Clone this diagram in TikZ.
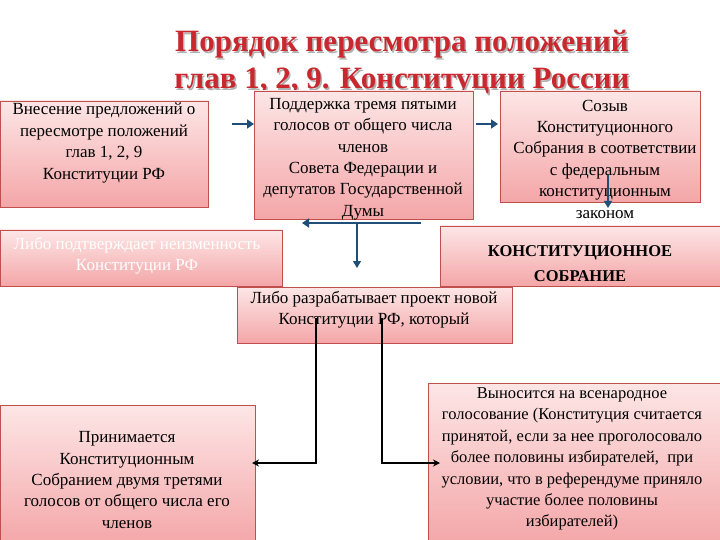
\documentclass[tikz,border=0pt]{standalone}
\usepackage{fontspec}
\setmainfont{Liberation Serif}
\usetikzlibrary{arrows.meta}
\definecolor{pk}{HTML}{F4A6A8}
\definecolor{pkl}{HTML}{FDE6E6}
\definecolor{bd}{HTML}{C0504D}
\definecolor{ttl}{HTML}{C8282E}
\definecolor{blu}{HTML}{1F4E79}
\tikzset{
 bx/.style={draw=bd,line width=0.8pt,top color=pkl,bottom color=pk,inner sep=0pt},
 tx/.style={align=center,font=\fontsize{17}{21.4}\selectfont,inner sep=0pt},
 barr/.style={draw=blu,line width=2pt,-{Triangle[length=7pt,width=9pt]}},
 karr/.style={draw=black,line width=1.6pt,-{Stealth[length=7pt,width=7pt]}}
}
\begin{document}
\begin{tikzpicture}[x=1pt,y=-1pt]
\useasboundingbox (0,0) rectangle (720,540);
% title
\foreach \dx/\c in {1.5/gray!60,0/ttl}{
\node[font=\fontsize{31}{37}\selectfont\bfseries,text=\c,align=center] (t\dx) at (402+\dx,63+\dx) {Порядок пересмотра положений\\глав 1, 2, 9. Конституции России};}
% boxes
\path[bx] (0,101) rectangle (208,207); \node[tx] (A) at (104,143) {Внесение предложений о\\пересмотре положений\\глав 1, 2, 9\\Конституции РФ};
\path[bx] (254,91) rectangle (473,219); \node[tx] (B) at (363,159) {Поддержка тремя пятыми\\голосов от общего числа\\членов\\Совета Федерации и\\депутатов Государственной\\Думы};
\path[bx] (500,91) rectangle (700,202); \node[tx] (C) at (605,159) {Созыв\\Конституционного\\Собрания в соответствии\\с федеральным\\конституционным\\законом};
\path[bx] (0,230) rectangle (282,286); \node[tx,text=white] (D) at (137,256) {Либо подтверждает неизменность\\Конституции РФ};
\path[bx] (440,226) rectangle (720,286); \node[tx,font=\fontsize{16.5}{25}\selectfont\bfseries] (E) at (580,264) {КОНСТИТУЦИОННОЕ\\СОБРАНИЕ};
\path[bx] (237,287) rectangle (512,343); \node[tx] (F) at (374,310) {Либо разрабатывает проект новой\\Конституции РФ, который};
\path[bx] (0,405) rectangle (255,545); \node[tx] (G) at (127,480) {Принимается\\Конституционным\\Собранием двумя третями\\голосов от общего числа его\\членов};
\path[bx] (428,383) rectangle (725,545); \node[tx,font=\fontsize{16.5}{21.4}\selectfont] (H) at (572,459) {Выносится на всенародное\\голосование (Конституция считается\\принятой, если за нее проголосовало\\более половины избирателей,\ \ при\\условии, что в референдуме приняло\\участие более половины\\избирателей)};
% connectors
\coordinate (a1) at (232,124); \coordinate (a2) at (254,124);
\draw[barr] (a1) -- (a2);
\coordinate (b1) at (476,124); \coordinate (b2) at (498,124);
\draw[barr] (b1) -- (b2);
\coordinate (c1) at (608,175); \coordinate (c2) at (608,208);
\draw[draw=blu,line width=1.2pt,-{Triangle[length=7pt,width=8pt]}] (c1) -- (c2);
\coordinate (h1) at (421,223); \coordinate (h2) at (302,223); \coordinate (v1) at (357,223); \coordinate (v2) at (357,268);
\draw[barr] (h1) -- (h2);
\draw[draw=blu,line width=1.2pt,-{Triangle[length=7pt,width=8pt]}] (v1) -- (v2);
\coordinate (k1) at (316,318); \coordinate (k2) at (316,463); \coordinate (k3) at (252,463);
\draw[karr] (k1) -- (k2) -- (k3);
\coordinate (m1) at (382,318); \coordinate (m2) at (382,463); \coordinate (m3) at (440,463);
\draw[karr] (m1) -- (m2) -- (m3);
\end{tikzpicture}
\end{document}
